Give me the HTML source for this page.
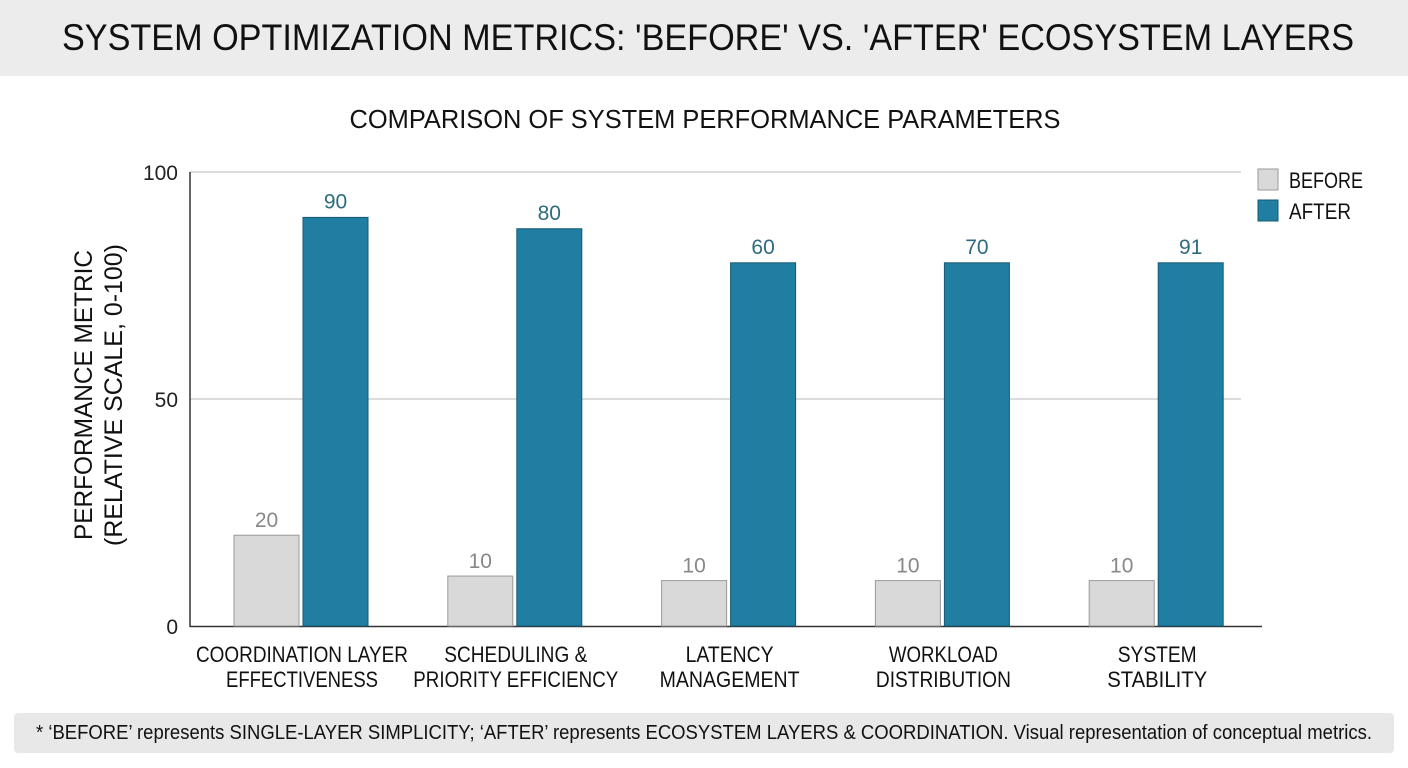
<!DOCTYPE html>
<html><head><meta charset="utf-8">
<style>
body{margin:0;width:1408px;height:768px;background:#fff;font-family:"Liberation Sans Narrow","Liberation Sans",sans-serif;overflow:hidden;position:relative}
#banner{position:absolute;left:0;top:0;width:1408px;height:76px;background:#ececec;color:#111;white-space:nowrap}
#foot{position:absolute;left:14px;top:713px;width:1380px;height:40px;background:#e8e8e8;border-radius:4px;color:#111;white-space:nowrap}
.fit{position:absolute;display:inline-block;transform-origin:0 0;white-space:nowrap}
svg{position:absolute;left:0;top:0}
</style></head><body>
<div id="banner"><span class="fit" id="bt" style="font-size:37px;top:17px;left:62px" data-w="1292">SYSTEM OPTIMIZATION METRICS: 'BEFORE' VS. 'AFTER' ECOSYSTEM LAYERS</span></div>
<svg id="chart" width="1408" height="768"></svg>
<div id="foot"><span class="fit" style="font-size:20px;top:9px;left:22px" data-w="1336">* ‘BEFORE’ represents SINGLE-LAYER SIMPLICITY; ‘AFTER’ represents ECOSYSTEM LAYERS &amp; COORDINATION. Visual representation of conceptual metrics.</span></div>
<script>
const categories=[["COORDINATION LAYER","EFFECTIVENESS"],["SCHEDULING &","PRIORITY EFFICIENCY"],["LATENCY","MANAGEMENT"],["WORKLOAD","DISTRIBUTION"],["SYSTEM","STABILITY"]];
const beforeValues=[20,11,10,10,10];
const afterValues=[90,87.5,80,80,80];
const beforeLabels=["20","10","10","10","10"];
const afterLabels=["90","80","60","70","91"];
const yTicks=[0,50,100];
const catWidths=[[212,152],[143,205],[88,140],[109,135],[79,100]];

document.querySelectorAll('.fit').forEach(s=>{const w=s.getBoundingClientRect().width;s.style.transform='scaleX('+(+s.dataset.w/w)+')';});

const NS="http://www.w3.org/2000/svg";
const svg=document.getElementById('chart');
function el(t,a,txt){const e=document.createElementNS(NS,t);for(const k in a)e.setAttribute(k,a[k]);if(txt!=null)e.textContent=txt;svg.appendChild(e);return e;}
const y0=626,y100=172;
const y=v=>y0-(y0-y100)*v/100;
const gx=i=>234+i*213.8;
const bw=65;

let t=el('text',{x:705,y:128,'text-anchor':'middle','font-size':26,fill:'#111',textLength:711,lengthAdjust:'spacingAndGlyphs'},'COMPARISON OF SYSTEM PERFORMANCE PARAMETERS');



yTicks.forEach(v=>{
  if(v>0){const g=el('line',{x1:190,x2:1241,y1:y(v),y2:y(v),stroke:'#c8c8c8','stroke-width':1.2});
  
  }
  const tl=el('text',{x:178,y:y(v)+8,'text-anchor':'end','font-size':21,fill:'#222'},v);
  
  
});
let ax=el('line',{x1:190,x2:190,y1:172,y2:627,stroke:'#333','stroke-width':1.5});


let bx=el('line',{x1:190,x2:1262,y1:626.5,y2:626.5,stroke:'#333','stroke-width':1.5});



[["PERFORMANCE METRIC",92,290],["(RELATIVE SCALE, 0-100)",122,302]].forEach(([s,xx,w])=>{
  const g=el('text',{transform:`translate(${xx},395) rotate(-90)`,x:0,y:0,'font-size':25,fill:'#111','text-anchor':'middle',textLength:w,lengthAdjust:'spacingAndGlyphs'},s);
  
  
});

categories.forEach((c,i)=>{
  const x=gx(i);
  const b=el('rect',{x:x,y:y(beforeValues[i]),width:bw,height:y0-y(beforeValues[i]),fill:'#d9d9d9',stroke:'#9a9a9a','stroke-width':1});
  
  
  const a=el('rect',{x:x+69,y:y(afterValues[i]),width:bw,height:y0-y(afterValues[i]),fill:'#1f7ea1',stroke:'#145a75','stroke-width':1});
  
  
  const lb=el('text',{x:x+bw/2,y:y(beforeValues[i])-8,'text-anchor':'middle','font-size':21,fill:'#888'},beforeLabels[i]);
  
  
  const la=el('text',{x:x+69+bw/2,y:y(afterValues[i])-9,'text-anchor':'middle','font-size':21,fill:'#2f6b80'},afterLabels[i]);
  
  
  c.forEach((s,j)=>{
    const cl=el('text',{x:x+68,y:662+j*25,'text-anchor':'middle','font-size':22,fill:'#111',textLength:catWidths[i][j],lengthAdjust:'spacingAndGlyphs'},s);
    
    
  });
});

[["BEFORE","#d9d9d9","#9a9a9a",169,74],["AFTER","#1f7ea1","#145a75",200,62]].forEach(([n,f,s,yy,w])=>{
  const r=el('rect',{x:1258,y:yy,width:20,height:21,fill:f,stroke:s});
  
  
  const tx=el('text',{x:1289,y:yy+19,'font-size':22,fill:'#111',textLength:w,lengthAdjust:'spacingAndGlyphs'},n);
  
  
});
</script>
</body></html>
